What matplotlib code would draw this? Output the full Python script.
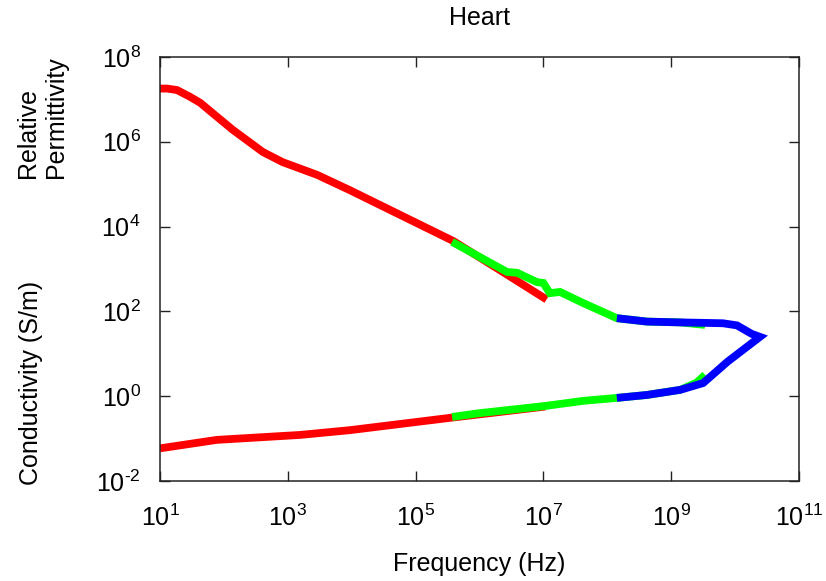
import matplotlib
matplotlib.use("Agg")
import matplotlib.pyplot as plt

# values (frequency in Hz)
red_perm_f = [1.0e1, 1.3e1, 1.85e1, 2.95e1, 4.27e1, 7.24e1, 1.38e2, 4.07e2, 8.32e2, 2.88e3, 9.33e3, 3.89e5, 2.69e6, 1.12e7]
red_perm_v = [1.8e7, 1.8e7, 1.66e7, 1.15e7, 8.3e6, 4.27e6, 1.91e6, 5.75e5, 3.31e5, 1.66e5, 7.24e4, 4.57e3, 7.4e2, 1.91e2]

green_perm_f = [3.72e5, 2.69e6, 3.89e6, 7.94e6, 1.0e7, 1.26e7, 1.82e7, 4.17e7, 1.41e8, 4.17e8, 1.38e9, 3.39e9]
green_perm_v = [4.37e3, 8.51e2, 8.13e2, 4.9e2, 4.68e2, 2.69e2, 2.88e2, 1.58e2, 69.2, 57.5, 55.0, 48.0]

blue_perm_f = [1.41e8, 4.17e8, 1.38e9, 3.16e9, 6.46e9, 1.07e10, 1.82e10, 2.45e10]
blue_perm_v = [69.2, 57.5, 55.0, 53.7, 52.5, 46.8, 29.5, 25.1]

red_cond_f = [1.0e1, 7.76e1, 1.55e3, 9.33e3, 3.47e5, 1.07e7]
red_cond_v = [0.0589, 0.0933, 0.122, 0.158, 0.309, 0.57]

green_cond_f = [3.72e5, 1.0e6, 1.07e7, 4.17e7, 1.41e8, 4.17e8, 1.38e9, 2.51e9, 3.39e9]
green_cond_v = [0.324, 0.398, 0.589, 0.776, 0.912, 1.07, 1.41, 2.1, 3.2]

blue_cond_f = [1.41e8, 4.17e8, 1.38e9, 3.16e9, 7.6e9, 2.45e10]
blue_cond_v = [0.912, 1.07, 1.41, 2.04, 6.5, 25.1]

x_ticks = [1e1, 1e3, 1e5, 1e7, 1e9, 1e11]
x_labels = ["$10^{1}$", "$10^{3}$", "$10^{5}$", "$10^{7}$", "$10^{9}$", "$10^{11}$"]
y_ticks = [1e-2, 1e0, 1e2, 1e4, 1e6, 1e8]
y_labels = ["$10^{\\text{-}2}$", "$10^{0}$", "$10^{2}$", "$10^{4}$", "$10^{6}$", "$10^{8}$"]

plt.rcParams["font.family"] = ["Liberation Sans", "DejaVu Sans"]
plt.rcParams["mathtext.fontset"] = "custom"
plt.rcParams["mathtext.rm"] = "Liberation Sans"
plt.rcParams["mathtext.it"] = "Liberation Sans"
plt.rcParams["mathtext.default"] = "regular"

fig = plt.figure(figsize=(8.26, 5.81), dpi=100)
ax = fig.add_axes([160 / 826, 1 - 481 / 581, 639 / 826, 424 / 581])

lw = 5.6
style = dict(lw=lw, solid_capstyle="butt", solid_joinstyle="miter")
ax.plot(red_perm_f, red_perm_v, color="#ff0000", **style)
ax.plot(red_cond_f, red_cond_v, color="#ff0000", **style)
ax.plot(green_perm_f, green_perm_v, color="#00ff00", **style)
ax.plot(green_cond_f, green_cond_v, color="#00ff00", **style)
# blue permittivity and conductivity meet at the last point: draw as one path for the sharp tip
ax.plot(blue_perm_f + blue_cond_f[::-1][1:], blue_perm_v + blue_cond_v[::-1][1:], color="#0000ff", **style)

ax.set_xscale("log")
ax.set_yscale("log")
ax.set_xlim(1e1, 1e11)
ax.set_ylim(1e-2, 1e8)
ax.set_xticks(x_ticks)
ax.set_xticklabels(x_labels)
ax.set_yticks(y_ticks)
ax.set_yticklabels(y_labels)
ax.minorticks_off()
ax.tick_params(direction="in", length=7, width=1, top=True, right=True,
               labelsize=18, color="#222222")
ax.tick_params(axis="x", pad=17)
ax.tick_params(axis="y", pad=14)
for s in ax.spines.values():
    s.set_linewidth(1.1)
    s.set_color("#222222")

ax.set_title("Heart", fontsize=18, pad=23)
fig.text(479.5 / 826, 1 - 571 / 581, "Frequency (Hz)", fontsize=18, ha="center", va="baseline")
fig.text(42 / 826, 1 - 117 / 581, "Relative\nPermittivity", fontsize=18, rotation=90,
         ha="center", va="center", multialignment="left")
fig.text(31 / 826, 1 - 383 / 581, "Conductivity (S/m)", fontsize=18, rotation=90,
         ha="center", va="center")

fig.savefig("out.png", dpi=100)
